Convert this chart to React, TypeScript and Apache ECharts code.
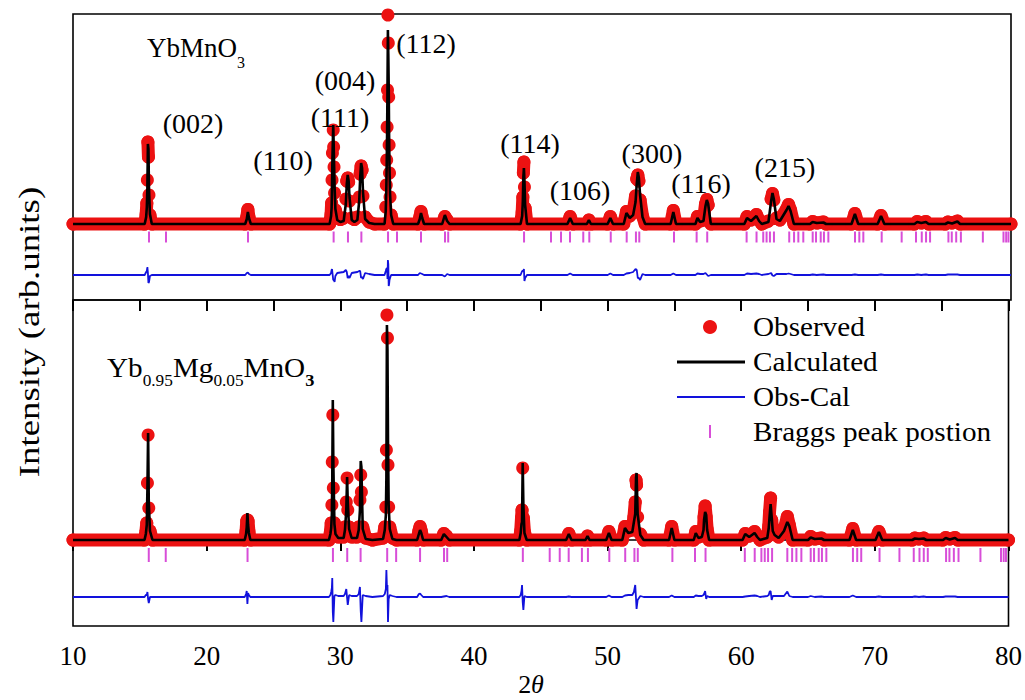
import React, { useEffect, useRef } from "react";
import * as echarts from "echarts";

// Rietveld refinement profiles: [2θ, observed, calculated] in arbitrary intensity units.
const ybMnO3Profile: number[][] = [
  [10.0, 0, 0],
  [15.35, 0, 0], [15.46, 100, 70], [15.51, 210, 170], [15.55, 440, 360], [15.59, 820, 800],
  [15.63, 670, 750], [15.67, 290, 360], [15.74, 90, 100], [15.88, 0, 0],
  [22.85, 0, 0], [22.97, 70, 50], [23.05, 145, 120], [23.13, 70, 60], [23.27, 0, 0],
  [29.15, 0, 0], [29.26, 100, 80], [29.3, 210, 160], [29.33, 440, 380], [29.36, 710, 650],
  [29.42, 940, 990], [29.45, 770, 820], [29.48, 570, 620], [29.52, 310, 380], [29.58, 140, 150],
  [29.72, 60, 40], [29.95, 45, 20],
  [30.2, 60, 30], [30.36, 250, 200], [30.43, 430, 400], [30.5, 460, 490], [30.57, 420, 430],
  [30.64, 230, 260], [30.8, 60, 40], [31.0, 45, 20],
  [31.22, 70, 40], [31.36, 270, 230], [31.43, 500, 460], [31.5, 580, 610], [31.57, 540, 560],
  [31.64, 280, 320], [31.8, 70, 50], [32.1, 20, 10], [32.5, 0, 0],
  [33.25, 0, 0], [33.34, 170, 130], [33.38, 390, 330], [33.41, 640, 580], [33.44, 970, 900],
  [33.47, 1340, 1380], [33.5, 2090, 1940], [33.53, 1810, 1700], [33.56, 1270, 1380],
  [33.59, 790, 880], [33.62, 510, 560], [33.66, 270, 300], [33.74, 90, 90], [33.9, 0, 0],
  [35.75, 0, 0], [35.88, 70, 50], [35.97, 125, 110], [36.06, 70, 60], [36.2, 0, 0],
  [37.55, 0, 0], [37.75, 75, 90], [37.92, 40, 30], [38.1, 0, 0],
  [43.4, 0, 0], [43.52, 120, 80], [43.57, 270, 230], [43.61, 510, 470], [43.65, 620, 560],
  [43.69, 370, 430], [43.74, 160, 190], [43.88, 0, 0],
  [46.9, 0, 0], [47.1, 75, 60], [47.3, 0, 0],
  [48.35, 0, 0], [48.5, 40, 40], [48.65, 0, 0],
  [49.9, 0, 0], [50.1, 75, 60], [50.3, 0, 0],
  [51.1, 0, 0], [51.3, 125, 110], [51.55, 80, 60],
  [51.8, 120, 90], [51.98, 280, 220], [52.07, 450, 400], [52.15, 490, 520], [52.23, 430, 460],
  [52.32, 240, 290], [52.5, 80, 70], [52.7, 0, 0],
  [54.6, 0, 0], [54.8, 135, 120], [55.0, 0, 0],
  [56.45, 0, 0], [56.6, 75, 60], [56.8, 30, 20],
  [57.05, 40, 30], [57.2, 200, 180], [57.3, 245, 240], [57.4, 190, 200], [57.6, 0, 0],
  [60.1, 0, 0], [60.3, 75, 60], [60.6, 40, 30], [61.0, 95, 80], [61.2, 40, 30], [61.4, 0, 0],
  [61.9, 30, 20], [62.1, 250, 230], [62.2, 305, 310], [62.3, 240, 250], [62.5, 60, 50],
  [62.75, 40, 30], [63.25, 150, 140], [63.4, 195, 180], [63.55, 140, 130], [63.8, 0, 0],
  [65.0, 0, 0], [65.2, 25, 20], [65.5, 10, 10], [66.0, 20, 15], [66.2, 0, 0],
  [68.1, 0, 0], [68.35, 105, 100], [68.6, 0, 0],
  [70.05, 0, 0], [70.3, 85, 80], [70.55, 0, 0],
  [72.8, 0, 0], [73.0, 25, 20], [73.3, 10, 10], [73.65, 25, 20], [73.85, 0, 0],
  [75.1, 0, 0], [75.3, 20, 15], [75.6, 10, 5], [76.0, 30, 25], [76.2, 0, 0],
  [80.0, 0, 0],
];

const ybMgMnO3Profile: number[][] = [
  [10.0, 0, 0],
  [15.35, 0, 0], [15.45, 80, 60], [15.52, 170, 150], [15.57, 570, 520], [15.62, 1050, 1070],
  [15.67, 320, 380], [15.76, 90, 90], [15.95, 0, 0],
  [22.85, 0, 0], [22.95, 90, 60], [23.0, 190, 130], [23.05, 200, 270], [23.1, 190, 150],
  [23.16, 90, 70], [23.27, 0, 0],
  [29.15, 0, 0], [29.26, 80, 60], [29.32, 170, 120], [29.37, 350, 260], [29.4, 780, 590],
  [29.44, 1250, 1400], [29.48, 520, 770], [29.56, 170, 160], [29.64, 80, 60], [29.85, 30, 20],
  [30.25, 30, 20], [30.35, 130, 100], [30.45, 380, 300], [30.51, 620, 630], [30.56, 300, 380],
  [30.66, 130, 110], [30.85, 30, 20],
  [31.25, 30, 20], [31.38, 130, 100], [31.47, 400, 300], [31.53, 650, 790], [31.58, 480, 730],
  [31.68, 130, 110], [31.9, 20, 10], [32.4, 0, 0],
  [33.2, 20, 10], [33.33, 130, 100], [33.41, 330, 250], [33.45, 900, 630], [33.49, 2250, 2150],
  [33.53, 2020, 1900], [33.57, 750, 1000], [33.62, 330, 350], [33.7, 130, 110], [33.9, 20, 10],
  [34.2, 0, 0],
  [35.75, 0, 0], [35.88, 90, 60], [35.97, 135, 100], [36.06, 90, 70], [36.2, 0, 0],
  [37.55, 0, 0], [37.75, 65, 60], [37.95, 40, 30], [38.15, 0, 0],
  [43.4, 0, 0], [43.5, 90, 70], [43.56, 220, 160], [43.6, 300, 180], [43.65, 720, 770],
  [43.7, 220, 350], [43.78, 80, 70], [43.95, 0, 0],
  [46.9, 0, 0], [47.1, 65, 60], [47.3, 0, 0],
  [48.35, 0, 0], [48.5, 40, 40], [48.65, 0, 0],
  [49.9, 0, 0], [50.1, 85, 70], [50.3, 0, 0],
  [51.1, 0, 0], [51.3, 135, 120], [51.55, 90, 70],
  [51.85, 100, 80], [51.97, 230, 180], [52.07, 380, 260], [52.13, 600, 620], [52.17, 550, 670],
  [52.25, 230, 260], [52.45, 60, 50], [52.7, 0, 0],
  [54.6, 0, 0], [54.8, 135, 120], [55.0, 0, 0],
  [56.45, 0, 0], [56.6, 85, 70], [56.8, 30, 20],
  [57.05, 40, 30], [57.18, 120, 100], [57.22, 230, 200], [57.3, 340, 280], [57.38, 230, 250],
  [57.45, 110, 100], [57.6, 0, 0],
  [60.1, 0, 0], [60.3, 65, 60], [60.6, 40, 30], [61.0, 85, 70], [61.2, 40, 30], [61.4, 0, 0],
  [61.95, 30, 20], [62.06, 140, 120], [62.12, 280, 230], [62.2, 420, 360], [62.28, 200, 230],
  [62.36, 100, 90], [62.5, 60, 50], [62.8, 30, 20],
  [63.2, 100, 90], [63.45, 235, 180], [63.6, 150, 140], [63.85, 0, 0],
  [65.0, 0, 0], [65.2, 35, 25], [65.5, 10, 10], [66.0, 20, 15], [66.2, 0, 0],
  [68.1, 0, 0], [68.35, 115, 100], [68.6, 0, 0],
  [70.05, 0, 0], [70.3, 85, 80], [70.55, 0, 0],
  [72.8, 0, 0], [73.0, 20, 15], [73.3, 10, 10], [73.65, 20, 15], [73.85, 0, 0],
  [75.1, 0, 0], [75.3, 25, 20], [75.6, 10, 5], [76.0, 25, 20], [76.2, 0, 0],
  [80.0, 0, 0],
];

// Allowed reflections of the hexagonal phase (2θ), shared by both samples.
const braggPositions: number[] = [
  15.67, 16.94, 23.06, 29.45, 30.52, 31.52, 33.51, 34.18, 35.97, 37.76, 38.0, 43.66, 45.67,
  46.42, 47.09, 48.08, 48.53, 50.13, 51.32, 52.01, 52.26, 54.85, 56.54, 57.33, 60.27, 61.01,
  61.51, 61.76, 62.01, 62.31, 63.45, 63.81, 64.13, 64.5, 65.2, 65.45, 65.8, 66.04, 66.37,
  68.36, 68.68, 68.98, 70.35, 71.84, 72.91, 73.34, 73.66, 73.96, 75.33, 75.58, 75.91, 76.26,
  77.9, 79.44, 79.64, 79.81,
];

// Miller-index annotations: label, 2θ, intensity where the label sits.
const hklNames = ["(002)", "(110)", "(111)", "(004)", "(112)", "(114)", "(106)", "(300)", "(116)", "(215)"];
const hklTwoTheta = [18.96, 25.67, 29.93, 30.3, 36.34, 44.1, 47.84, 53.2, 56.87, 63.13];
const hklIntensity = [1010, 640, 1070, 1440, 1810, 810, 340, 710, 410, 570];

const xTickValues = [10, 20, 30, 40, 50, 60, 70, 80];

const SERIF = '"Liberation Serif", "Times New Roman", serif';
const RED = "#ec1212";
const BLUE = "#1212dc";
const MAGENTA = "#d84ed8";
const INK = "#000";

const panels = [
  { rows: ybMnO3Profile, yMin: -760, yMax: 2100, diffZero: -510, braggLevel: -130, braggLen: 11, top: 14, height: 286 },
  { rows: ybMgMnO3Profile, yMin: -860, yMax: 2400, diffZero: -570, braggLevel: -150, braggLen: 14, top: 300, height: 326 },
];

// The observed points overlap into a continuous band; steep jumps are left as separate dots.
function bandData(rows: number[][], maxStep: number) {
  const out: any[] = [];
  rows.forEach((r, i) => {
    if (i > 0 && Math.abs(r[1] - rows[i - 1][1]) > maxStep) {
      out.push([(r[0] + rows[i - 1][0]) / 2, "-"]);
    }
    out.push([r[0], r[1]]);
  });
  return out;
}

function buildOption(): any {
  const series: any[] = [];
  panels.forEach((p, i) => {
    const xIdx = i === 0 ? 0 : 1;
    series.push({
      type: "line", xAxisIndex: xIdx, yAxisIndex: i, data: bandData(p.rows, 160),
      symbol: "none", connectNulls: false, silent: true, z: 1,
      lineStyle: { color: RED, width: 13, cap: "round", join: "round", opacity: 1 },
    });
    series.push({
      name: "Observed", type: "scatter", xAxisIndex: xIdx, yAxisIndex: i,
      data: p.rows.map((r) => [r[0], r[1]]), symbol: "circle", symbolSize: 13,
      itemStyle: { color: RED, opacity: 1 }, z: 2, silent: true,
    });
    series.push({
      name: "Calculated", type: "line", xAxisIndex: xIdx, yAxisIndex: i,
      data: p.rows.map((r) => [r[0], r[2]]), symbol: "none", z: 3, silent: true,
      lineStyle: { color: "#000", width: 2.6 },
    });
    series.push({
      name: "Obs-Cal", type: "line", xAxisIndex: xIdx, yAxisIndex: i,
      data: p.rows.map((r) => [r[0], r[1] - r[2] + p.diffZero]), symbol: "none", z: 3, silent: true,
      lineStyle: { color: BLUE, width: 1.8 },
    });
    series.push({
      name: "Braggs peak postion", type: "scatter", xAxisIndex: xIdx, yAxisIndex: i,
      data: braggPositions.map((x) => [x, p.braggLevel]), symbol: "rect",
      symbolSize: [2, p.braggLen], itemStyle: { color: MAGENTA, opacity: 1 }, z: 3, silent: true,
    });
  });
  series.push({
    type: "scatter", xAxisIndex: 0, yAxisIndex: 0, z: 6, silent: true,
    symbol: "circle", symbolSize: 1, itemStyle: { color: "rgba(0,0,0,0)", opacity: 1 },
    data: hklNames.map((n, k) => ({ name: n, value: [hklTwoTheta[k], hklIntensity[k]] })),
    label: {
      show: true, position: "inside", formatter: "{b}", fontFamily: SERIF, fontSize: 28,
      color: INK, opacity: 1,
    },
  });

  const legendRows = [
    { text: "Observed", y: 327 },
    { text: "Calculated", y: 362 },
    { text: "Obs-Cal", y: 397 },
    { text: "Braggs peak postion", y: 432 },
  ];

  return {
    animation: false,
    backgroundColor: "#fff",
    grid: panels.map((p) => ({
      left: 73, right: 14, top: p.top, height: p.height, show: true,
      borderColor: "#000", borderWidth: 1.6, backgroundColor: "transparent",
    })),
    xAxis: [
      { gridIndex: 0, type: "value", min: 10, max: 80, show: false },
      {
        gridIndex: 1, type: "value", min: 10, max: 80, interval: 10, position: "bottom",
        axisLine: { show: true, lineStyle: { color: "#000", width: 1.6 } },
        axisTick: { show: true, inside: false, length: 11, lineStyle: { color: "#000", width: 2 } },
        minorTick: { show: true, splitNumber: 2, length: 6, lineStyle: { color: "#000", width: 2 } },
        splitLine: { show: false },
        axisLabel: {
          show: true, margin: 16, fontFamily: SERIF, fontSize: 27, color: INK,
          customValues: xTickValues,
        },
      },
      {
        gridIndex: 1, type: "value", min: 10, max: 80, interval: 5, position: "top",
        axisLine: { show: false },
        axisTick: { show: true, inside: true, length: 11, lineStyle: { color: "#000", width: 2 } },
        axisLabel: { show: false }, splitLine: { show: false },
      },
    ],
    yAxis: panels.map((p, i) => ({
      gridIndex: i, type: "value", min: p.yMin, max: p.yMax, show: false, splitLine: { show: false },
    })),
    series,
    graphic: [
      {
        type: "text", x: 147, y: 52.5,
        style: {
          text: "{m|YbMnO}{s|3}", verticalAlign: "middle", fill: INK,
          rich: {
            m: { fontFamily: SERIF, fontSize: 27, padding: [0, 0, 9, 0] },
            s: { fontFamily: SERIF, fontSize: 16, verticalAlign: "bottom" },
          },
        },
      },
      {
        type: "text", x: 107, y: 371.5, scaleX: 1.08,
        style: {
          text: "{m|Yb}{s|0.95}{m|Mg}{s|0.05}{m|MnO}{b|3}", verticalAlign: "middle", fill: INK,
          rich: {
            m: { fontFamily: SERIF, fontSize: 27, padding: [0, 0, 7, 0] },
            s: { fontFamily: SERIF, fontSize: 16, verticalAlign: "bottom" },
            b: { fontFamily: SERIF, fontSize: 17, fontWeight: "bold", verticalAlign: "bottom" },
          },
        },
      },
      {
        type: "text", x: 29, y: 332, rotation: Math.PI / 2, scaleX: 1.27,
        style: {
          text: "Intensity (arb.units)", fontFamily: SERIF, fontSize: 29, fill: INK,
          align: "center", verticalAlign: "middle",
        },
      },
      {
        type: "text", x: 531, y: 684,
        style: {
          text: "{n|2}{i|θ}", align: "center", verticalAlign: "middle", fill: INK,
          rich: {
            n: { fontFamily: SERIF, fontSize: 26 },
            i: { fontFamily: SERIF, fontSize: 26, fontStyle: "italic" },
          },
        },
      },
      { type: "circle", shape: { cx: 710, cy: 327, r: 7 }, style: { fill: RED } },
      { type: "line", shape: { x1: 677, y1: 362, x2: 745, y2: 362 }, style: { stroke: "#000", lineWidth: 3 } },
      { type: "line", shape: { x1: 677, y1: 397, x2: 745, y2: 397 }, style: { stroke: BLUE, lineWidth: 2 } },
      { type: "line", shape: { x1: 710, y1: 425, x2: 710, y2: 438 }, style: { stroke: MAGENTA, lineWidth: 2 } },
      ...legendRows.map((r) => ({
        type: "text", x: 753, y: r.y, scaleX: 1.08,
        style: { text: r.text, fontFamily: SERIF, fontSize: 27, fill: INK, verticalAlign: "middle" },
      })),
    ],
  };
}

export default function App() {
  const ref = useRef<HTMLDivElement>(null);
  useEffect(() => {
    const chart = echarts.init(ref.current!, null, { renderer: "svg" });
    chart.setOption(buildOption());
    return () => chart.dispose();
  }, []);
  return (
    <div
      ref={ref}
      style={{ position: "fixed", left: 0, top: 0, width: 1025, height: 700, background: "#fff" }}
    />
  );
}
